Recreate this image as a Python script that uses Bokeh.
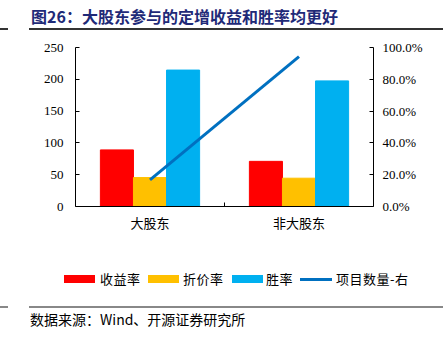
from bokeh.plotting import figure
from bokeh.models import (Range1d, FactorRange, LinearAxis, CategoricalAxis, FixedTicker,
                          NumeralTickFormatter, ColumnDataSource, Div)
from bokeh.layouts import column
from bokeh.transform import dodge
from bokeh.embed import file_html
from bokeh.resources import INLINE

categories = ["大股东", "非大股东"]
shouyi_lv = [89, 71]        # 收益率
zhejia_lv = [45.5, 44.5]    # 折价率
sheng_lv = [214.5, 197.5]   # 胜率
xiangmu_right = [0.168, 0.943]  # 项目数量-右
series_names = ["收益率", "折价率", "胜率", "项目数量-右"]
left_ticks = [0, 50, 100, 150, 200, 250]
right_ticks = [0, 0.2, 0.4, 0.6, 0.8, 1.0]
title_text = "图26：大股东参与的定增收益和胜率均更好"
source_text = "数据来源：Wind、开源证券研究所"

COLORS = ["#FF0000", "#FFC000", "#00B0F0", "#0070C0"]
CJK = "Noto Sans CJK SC"
SERIF = "Liberation Serif"

src = ColumnDataSource(dict(cat=categories, a=shouyi_lv, b=zhejia_lv, c=sheng_lv, r=xiangmu_right))
W = 0.222

# ---------- main chart ----------
p = figure(width=443, height=207, output_backend="svg", toolbar_location=None,
           x_range=FactorRange(*categories, range_padding=0), y_range=Range1d(0, 250),
           x_axis_location=None, y_axis_location=None,
           min_border_left=75, min_border_right=70, min_border_top=14, min_border_bottom=34)
p.outline_line_color = None
p.xgrid.visible = False
p.ygrid.visible = False
p.extra_y_ranges = {"right": Range1d(0, 1)}
p.extra_x_ranges = {"mid": FactorRange("m", range_padding=0)}

for off, col, color in [(-W, "a", COLORS[0]), (0, "b", COLORS[1]), (W, "c", COLORS[2])]:
    p.vbar(x=dodge("cat", off, range=p.x_range), top=col, width=W, source=src,
           fill_color=color, line_color=color)
p.line(x="cat", y="r", source=src, y_range_name="right", line_color=COLORS[3], line_width=3)

yl = LinearAxis(ticker=FixedTicker(ticks=left_ticks))
yr = LinearAxis(y_range_name="right", ticker=FixedTicker(ticks=right_ticks),
                formatter=NumeralTickFormatter(format="0.0%"))
for ax in (yl, yr):
    ax.major_tick_in = 4
    ax.major_tick_out = 0
    ax.minor_tick_line_color = None
    ax.axis_line_color = "black"
    ax.major_tick_line_color = "black"
    ax.major_label_text_font = SERIF
    ax.major_label_text_font_size = "13px"
    ax.major_label_text_color = "black"
yl.major_label_standoff = 12
yr.major_label_standoff = 9
p.add_layout(yl, "left")
p.add_layout(yr, "right")

xt = CategoricalAxis(x_range_name="mid")
xt.major_tick_in = 4
xt.major_tick_out = 0
xt.minor_tick_line_color = None
xt.axis_line_color = "black"
xt.major_tick_line_color = "black"
xt.major_label_text_font_size = "0px"
xt.major_label_standoff = 0
p.add_layout(xt, "below")

xc = CategoricalAxis()
xc.axis_line_color = None
xc.major_tick_line_color = None
xc.minor_tick_line_color = None
xc.major_label_text_font = CJK
xc.major_label_text_font_size = "13px"
xc.major_label_text_color = "black"
xc.major_label_standoff = 0
p.add_layout(xc, "below")

# ---------- legend (HTML strip) ----------
swatch_left = [64, 148, 232, 300]
label_left = [100, 183, 266, 336]
parts = ['<div style="position:relative;width:443px;height:60px;margin:0;padding:0;">']
for i, name in enumerate(series_names):
    if i < 3:
        parts.append(f'<div style="position:absolute;left:{swatch_left[i]}px;top:35px;width:31px;height:8px;'
                     f'background:{COLORS[i]};"></div>')
    else:
        parts.append(f'<div style="position:absolute;left:{swatch_left[i]}px;top:38px;width:32px;height:3px;'
                     f'background:{COLORS[i]};"></div>')
    parts.append(f'<span style="position:absolute;left:{label_left[i]}px;top:31px;font-family:\'{CJK}\';'
                 f'font-size:13px;line-height:16px;letter-spacing:0.5px;color:#000;white-space:nowrap;">{name}</span>')
parts.append('</div>')
legend_div = Div(width=443, height=60, margin=0, text="".join(parts))

# ---------- title & source ----------
title_div = Div(width=443, height=33, margin=0, text=(
    '<div style="position:relative;width:443px;height:33px;margin:0;padding:0;">'
    f'<span style="position:absolute;left:31px;top:6px;font-family:\'{CJK}\';font-weight:bold;'
    f'font-size:16px;line-height:20px;color:#1F2A78;white-space:nowrap;">{title_text}</span>'
    '<div style="position:absolute;left:0px;top:28px;width:8px;height:1.5px;background:#333;"></div>'
    '<div style="position:absolute;left:29px;top:28px;width:414px;height:1.5px;background:#333;"></div>'
    '</div>'))
source_div = Div(width=443, height=46, margin=0, text=(
    '<div style="position:relative;width:443px;height:46px;margin:0;padding:0;">'
    '<div style="position:absolute;left:0px;top:6px;width:8px;height:1.5px;background:#888;"></div>'
    '<div style="position:absolute;left:29px;top:6px;width:414px;height:1.5px;background:#888;"></div>'
    f'<span style="position:absolute;left:30px;top:11px;font-family:\'{CJK}\';'
    f'font-size:14px;line-height:17px;color:#000;white-space:nowrap;">{source_text}</span>'
    '</div>'))

layout = column(title_div, p, legend_div, source_div, spacing=0)
open("out.html", "w").write(file_html(layout, INLINE))
